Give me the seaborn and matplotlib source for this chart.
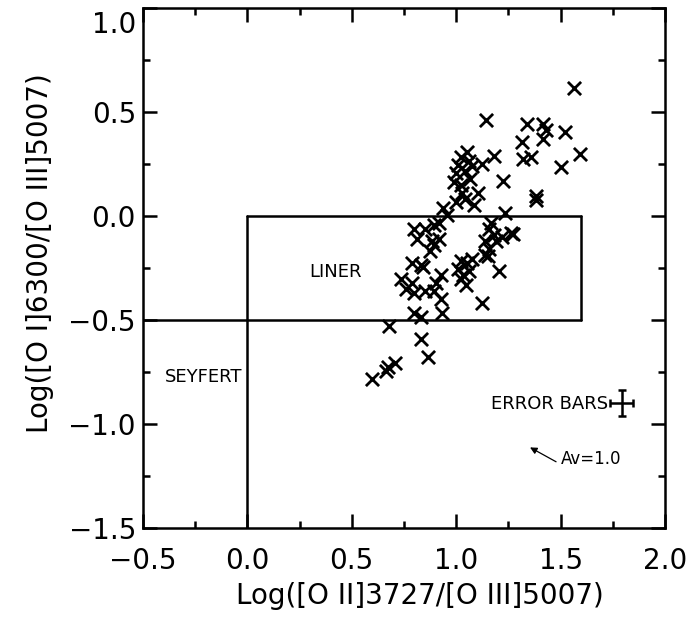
import numpy as np
import pandas as pd
import matplotlib
matplotlib.use('Agg')
import matplotlib.pyplot as plt
import matplotlib.transforms as mtransforms
from matplotlib.ticker import MultipleLocator
import seaborn as sns

# Data titik
log_oii_oiii = [1.562, 1.143, 1.337, 1.415, 1.432, 1.316, 1.415, 1.520, 1.594, 1.501,
                1.320, 1.358, 1.383, 1.383, 1.179, 1.225, 1.053, 1.025, 1.063, 1.011,
                1.074, 1.122, 1.000, 1.042, 0.989, 1.067, 1.021, 1.105, 1.027, 1.000,
                1.084, 1.042, 0.937, 0.958, 0.916, 0.895, 0.853, 1.232, 1.168, 1.158,
                1.179, 1.263, 1.274, 1.221, 1.189, 1.137, 1.158, 1.137, 1.152, 0.800,
                0.811, 0.884, 0.895, 0.874, 0.916, 1.021, 1.053, 1.074, 1.011, 1.032,
                1.063, 1.021, 1.048, 1.204, 1.126, 0.789, 0.832, 0.842, 0.737, 0.789,
                0.758, 0.800, 0.853, 0.926, 0.905, 0.895, 0.926, 0.931, 0.800, 0.832,
                0.680, 0.832, 0.863, 0.596, 0.663, 0.674, 0.705]
log_oi_oiii = [0.617, 0.460, 0.442, 0.442, 0.416, 0.358, 0.368, 0.402, 0.297, 0.234,
               0.272, 0.285, 0.096, 0.077, 0.287, 0.167, 0.310, 0.282, 0.266, 0.243,
               0.239, 0.249, 0.205, 0.215, 0.163, 0.176, 0.148, 0.109, 0.109, 0.067,
               0.052, 0.080, 0.038, 0.004, -0.034, -0.044, -0.063, 0.013, -0.034, -0.063,
               -0.092, -0.082, -0.088, -0.101, -0.121, -0.121, -0.159, -0.188, -0.193, -0.063,
               -0.111, -0.121, -0.140, -0.169, -0.111, -0.216, -0.226, -0.207, -0.255, -0.284,
               -0.264, -0.303, -0.331, -0.264, -0.418, -0.226, -0.236, -0.245, -0.303, -0.322,
               -0.351, -0.370, -0.360, -0.284, -0.322, -0.360, -0.398, -0.466, -0.466, -0.485,
               -0.529, -0.590, -0.676, -0.782, -0.743, -0.724, -0.705]

# Error bar tipikal dan vektor reddening
err_pos = (1.793, -0.899)
err_x = 0.056
err_y = 0.062
av_tail = (1.49, -1.188)
av_head = (1.342, -1.106)

df = pd.DataFrame({'x': log_oii_oiii, 'y': log_oi_oiii})

sns.set_style('ticks')
plt.rcParams['font.family'] = ['DejaVu Sans']
plt.rcParams['text.color'] = 'black'
plt.rcParams['axes.labelcolor'] = 'black'
plt.rcParams['xtick.color'] = 'black'
plt.rcParams['ytick.color'] = 'black'

fig = plt.figure(figsize=(6.87, 6.19), dpi=100)
ax = fig.add_axes([0.208, 0.147, 0.760, 0.840])

sns.scatterplot(data=df, x='x', y='y', marker='x', color='black',
                s=90, linewidth=2.0, ax=ax, legend=False)

# Garis batas LINER / Seyfert
lw = 1.8
ax.plot([-0.5, 1.6], [-0.5, -0.5], color='black', lw=lw)
ax.plot([0.0, 0.0], [-1.5, 0.0], color='black', lw=lw)
ax.plot([0.0, 1.6], [0.0, 0.0], color='black', lw=lw)
ax.plot([1.6, 1.6], [-0.5, 0.0], color='black', lw=lw)

ax.text(0.42, -0.27, 'LINER', fontsize=13, ha='center', va='center')
ax.text(-0.21, -0.776, 'SEYFERT', fontsize=13, ha='center', va='center')
ax.text(1.728, -0.905, 'ERROR BARS', fontsize=13, ha='right', va='center')
ax.errorbar(err_pos[0], err_pos[1], xerr=err_x, yerr=err_y, color='black',
            lw=1.8, capsize=3, capthick=1.8)
ax.annotate('', xy=av_head, xytext=av_tail,
            arrowprops=dict(arrowstyle='-|>', color='black', lw=0.9,
                            mutation_scale=10))
ax.text(1.50, -1.17, 'Av=1.0', fontsize=12, ha='left', va='center')

ax.set_xlim(-0.5, 2.0)
ax.set_ylim(-1.5, 1.0)
ax.set_xticks([-0.5, 0.0, 0.5, 1.0, 1.5, 2.0])
ax.set_yticks([-1.5, -1.0, -0.5, 0.0, 0.5, 1.0])
ax.xaxis.set_minor_locator(MultipleLocator(0.25))
ax.yaxis.set_minor_locator(MultipleLocator(0.25))
ax.tick_params(which='both', direction='in', top=True, right=True, width=1.8,
               labelsize=20, color='black', labelcolor='black')
ax.tick_params(which='major', length=10)
ax.tick_params(axis='x', which='major', pad=14)
ax.tick_params(axis='y', which='major', pad=5)
ax.tick_params(which='minor', length=5)
for sp in ax.spines.values():
    sp.set_linewidth(1.8)
    sp.set_color('black')

fmt = plt.FuncFormatter(lambda v, p: f'{v:.1f}'.replace('-', '\u2212'))
ax.xaxis.set_major_formatter(fmt)
ax.yaxis.set_major_formatter(fmt)

ax.set_xlabel('Log([O II]3727/[O III]5007)', fontsize=20)
ax.set_ylabel('Log([O I]6300/[O III]5007)', fontsize=20)
ax.xaxis.set_label_coords(0.531, -0.104)
ax.yaxis.set_label_coords(-0.17, 0.529)

# label 1.0 teratas digeser sedikit ke bawah
top_lab = ax.yaxis.get_major_ticks()[-1].label1
top_lab.set_transform(top_lab.get_transform() +
                      mtransforms.ScaledTranslation(0, -10 / 72, fig.dpi_scale_trans))

plt.savefig('out.png', dpi=100)
